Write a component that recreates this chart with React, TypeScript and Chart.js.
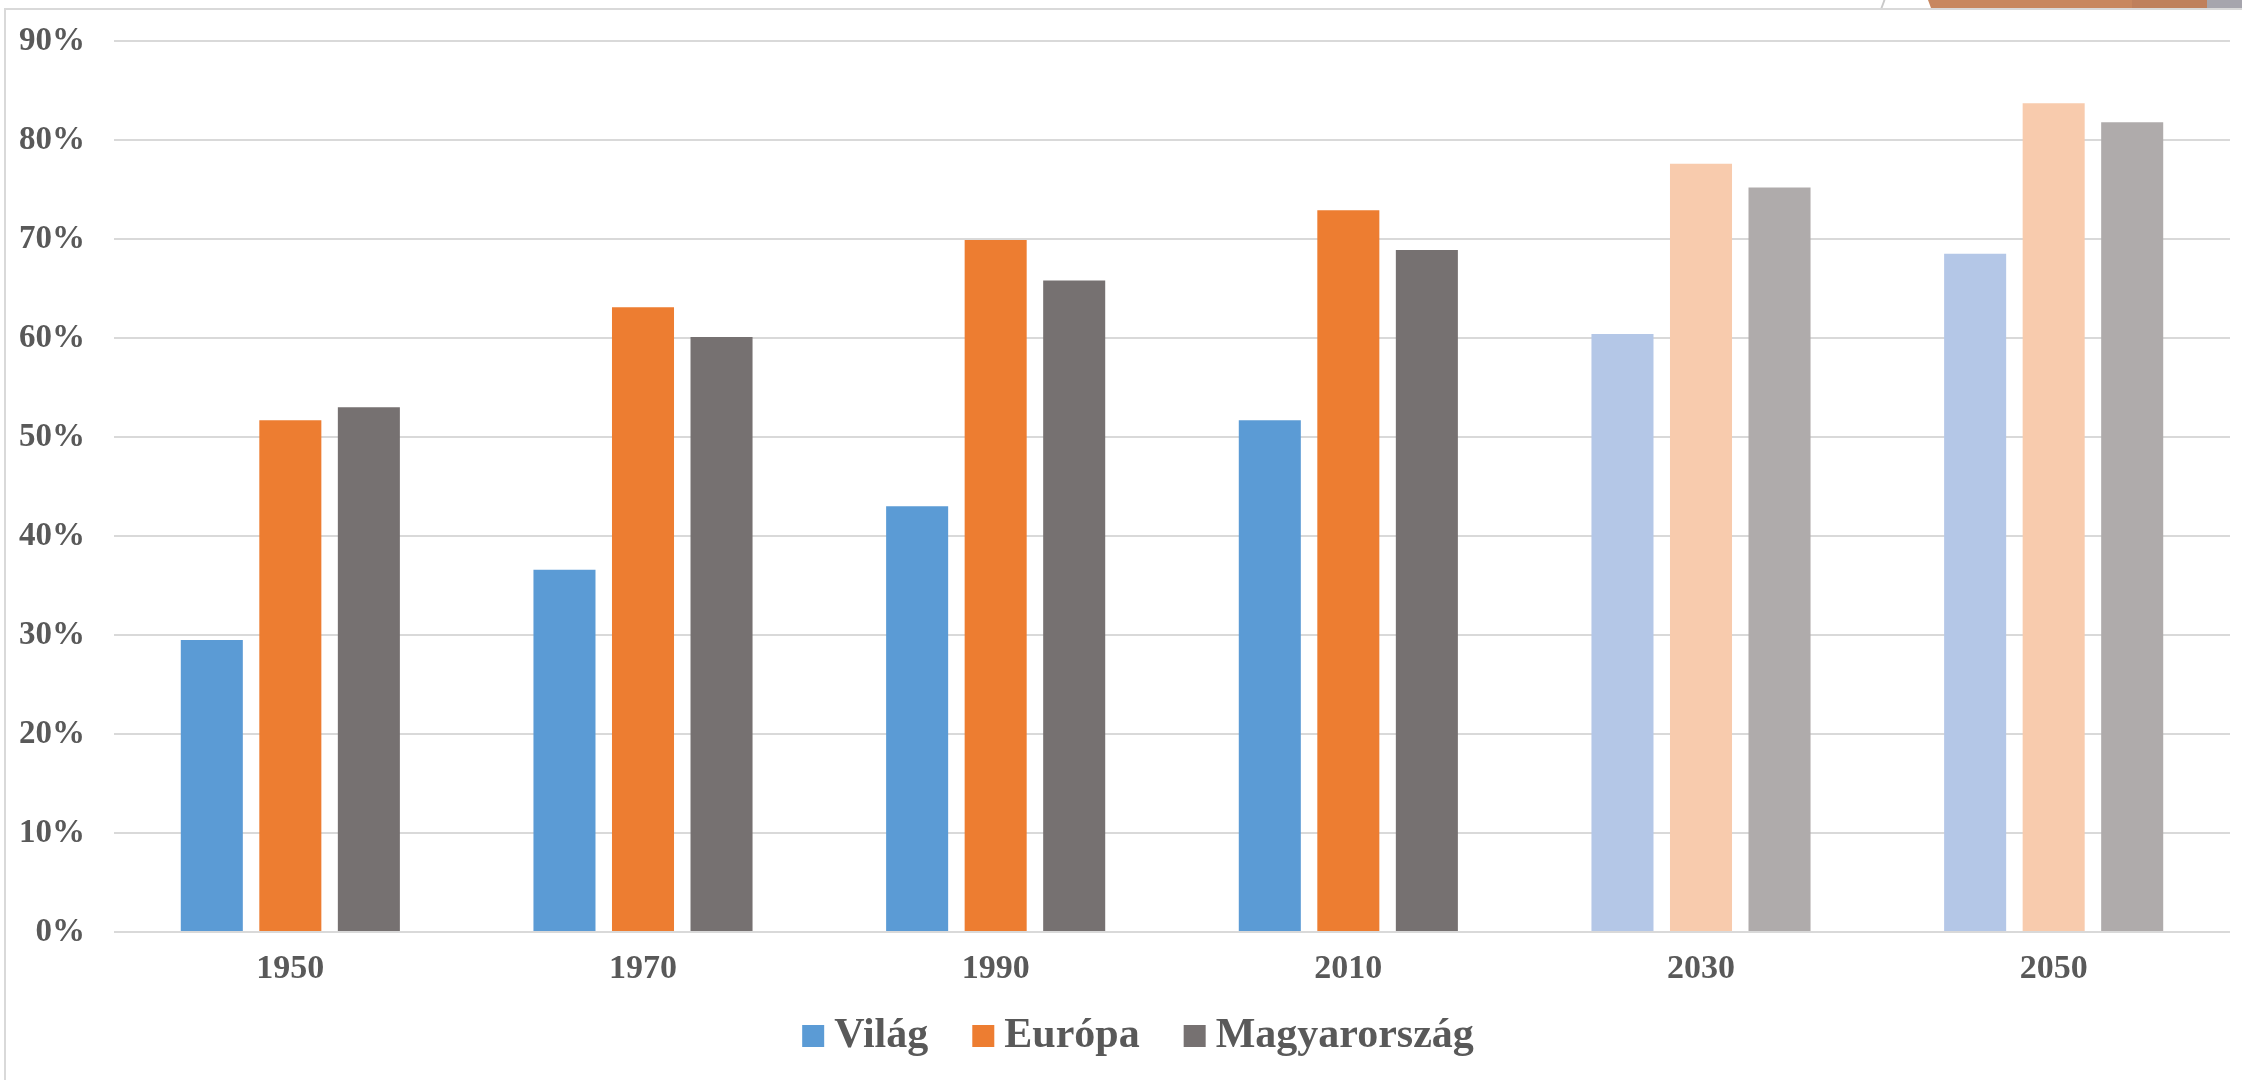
import React, { useEffect, useRef } from "react";
import { Chart, registerables } from "chart.js";

Chart.register(...registerables);

// ---- data ----
const categories = ["1950", "1970", "1990", "2010", "2030", "2050"];
const seriesNames = ["Világ", "Európa", "Magyarország"];
const vilag = [29.5, 36.6, 43.0, 51.7, 60.4, 68.5];
const europa = [51.7, 63.1, 69.9, 72.9, 77.6, 83.7];
const magyarorszag = [53.0, 60.1, 65.8, 68.9, 75.2, 81.8];
const projectedFromIndex = 4; // 2030 and 2050 are projections (lighter bars)
const yMax = 90;
const yStep = 10;

const solidColors = ["#5B9BD5", "#ED7D31", "#767171"];
const lightColors = ["#B4C7E7", "#F8CBAD", "#AFABAB"];

const FONT = "'Liberation Serif', 'Times New Roman', serif";
const TEXT = "#595959";

// legend styling (drawn by a small plugin)
const LEGEND_CENTER_X = 1138;
const LEGEND_CENTER_Y = 1036;
const LEGEND_BOX = 22;
const LEGEND_TEXT_GAP = 10;
const LEGEND_ITEM_GAP = 44;
const LEGEND_FONT_SIZE = 42;

const legendPlugin = {
  id: "bottomLegend",
  afterDraw(chart: any) {
    const ctx = chart.ctx;
    ctx.save();
    ctx.font = `bold ${LEGEND_FONT_SIZE}px ${FONT}`;
    const items = chart.data.datasets.map((d: any) => {
      const bg = Array.isArray(d.backgroundColor) ? d.backgroundColor[0] : d.backgroundColor;
      return { text: d.label as string, color: bg as string, w: ctx.measureText(d.label).width };
    });
    const total =
      items.reduce((a: number, it: any) => a + LEGEND_BOX + LEGEND_TEXT_GAP + it.w, 0) +
      LEGEND_ITEM_GAP * (items.length - 1);
    let x = LEGEND_CENTER_X - total / 2;
    const cy = LEGEND_CENTER_Y;
    ctx.textBaseline = "middle";
    ctx.textAlign = "left";
    items.forEach((it: any) => {
      ctx.fillStyle = it.color;
      ctx.fillRect(x, cy - LEGEND_BOX / 2, LEGEND_BOX, LEGEND_BOX);
      x += LEGEND_BOX + LEGEND_TEXT_GAP;
      ctx.fillStyle = TEXT;
      ctx.fillText(it.text, x, cy);
      x += it.w + LEGEND_ITEM_GAP;
    });
    ctx.restore();
  },
};

export default function App() {
  const ref = useRef<HTMLCanvasElement | null>(null);

  useEffect(() => {
    document.body.style.margin = "0";
    const canvas = ref.current;
    if (!canvas) return;
    const series = [vilag, europa, magyarorszag];
    const chart = new Chart(canvas, {
      type: "bar",
      data: {
        labels: categories,
        datasets: series.map((values, s) => ({
          label: seriesNames[s],
          data: values,
          backgroundColor: categories.map((_, i) =>
            i >= projectedFromIndex ? lightColors[s] : solidColors[s]
          ),
          borderWidth: 0,
          categoryPercentage: 0.668,
          barPercentage: 0.79,
        })),
      },
      options: {
        animation: false,
        responsive: false,
        devicePixelRatio: 1,
        layout: { padding: { left: 0, right: 12, top: 41, bottom: 88 } },
        plugins: {
          tooltip: { enabled: false },
          legend: { display: false },
        },
        scales: {
          x: {
            grid: { display: false, drawTicks: false },
            border: { display: false },
            ticks: {
              color: TEXT,
              padding: 17,
              font: { family: FONT, size: 34, weight: "bold" },
            },
            afterFit: (s: any) => {
              s.height = 60;
            },
          },
          y: {
            min: 0,
            max: yMax,
            grid: {
              color: "#D9D9D9",
              lineWidth: 2,
              drawTicks: true,
              tickLength: 29,
              tickColor: "rgba(0,0,0,0)",
            },
            border: { display: false },
            ticks: {
              stepSize: yStep,
              color: TEXT,
              padding: 0,
              font: { family: FONT, size: 33, weight: "bold" },
              callback: (v: any) => `${v}%`,
            },
            afterFit: (s: any) => {
              s.width = 114;
            },
          },
        },
      },
      plugins: [legendPlugin],
    });
    return () => chart.destroy();
  }, []);

  return (
    <div
      style={{
        position: "relative",
        width: 2242,
        height: 1080,
        overflow: "hidden",
        background: "#FFFFFF",
      }}
    >
      <div
        style={{
          position: "absolute",
          left: 4,
          top: 8,
          width: 2260,
          height: 1100,
          borderLeft: "2px solid #D9D9D9",
          borderTop: "2px solid #D9D9D9",
        }}
      />
      <div
        style={{
          position: "absolute",
          left: 1882,
          top: 0,
          width: 2,
          height: 8,
          background: "#C9C9C9",
          transform: "skewX(-20deg)",
        }}
      />
      <div
        style={{
          position: "absolute",
          left: 1928,
          top: 0,
          width: 206,
          height: 8,
          background: "#C8875F",
          clipPath: "polygon(0 0, 100% 0, 100% 100%, 3px 100%)",
        }}
      />
      <div
        style={{
          position: "absolute",
          left: 2132,
          top: 0,
          width: 76,
          height: 8,
          background: "#BF805C",
        }}
      />
      <div
        style={{
          position: "absolute",
          left: 2207,
          top: 0,
          width: 40,
          height: 8,
          background: "#A6A5AD",
        }}
      />
      <canvas
        ref={ref}
        width={2242}
        height={1080}
        style={{ position: "absolute", left: 0, top: 0, width: 2242, height: 1080 }}
      />
    </div>
  );
}
